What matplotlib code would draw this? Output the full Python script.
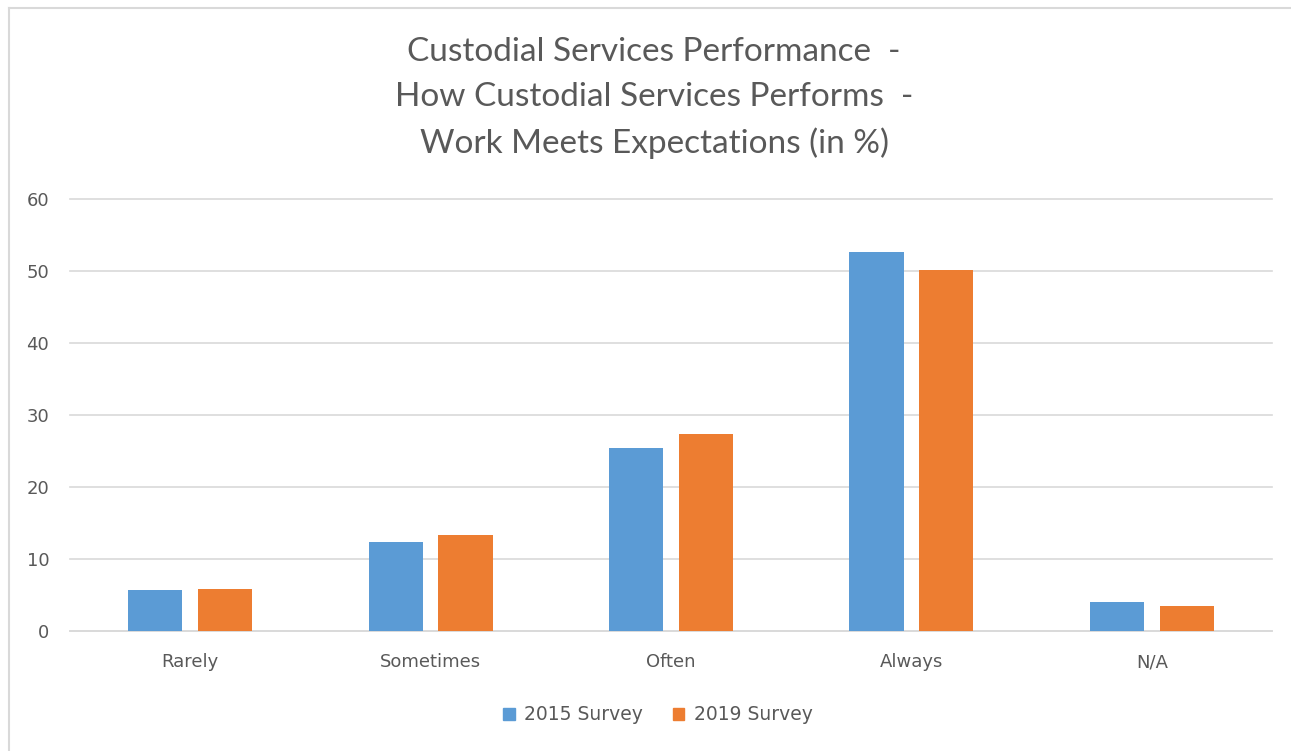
import matplotlib
matplotlib.use("Agg")
import matplotlib.pyplot as plt
import numpy as np
from matplotlib.lines import Line2D
from matplotlib.patches import Patch

categories = ["Rarely", "Sometimes", "Often", "Always", "N/A"]
survey_2015 = [5.7, 12.3, 25.4, 52.6, 4.0]
survey_2019 = [5.9, 13.4, 27.4, 50.1, 3.5]
series_labels = ["2015 Survey", "2019 Survey"]
yticks = [0, 10, 20, 30, 40, 50, 60]

BLUE = "#5B9BD5"
ORANGE = "#ED7D31"
TEXT = "#595959"
GRID = "#D9D9D9"

W, H = 1291, 751
fig = plt.figure(figsize=(W / 100, H / 100), dpi=100)
fig.patch.set_facecolor("white")

ax = fig.add_axes([70 / W, 1 - 631 / H, (1272 - 70) / W, (631 - 199) / H])
x = np.arange(len(categories))
bw = 0.225
off = 0.145
ax.bar(x - off, survey_2015, width=bw, color=BLUE, label=series_labels[0], zorder=3)
ax.bar(x + off, survey_2019, width=bw, color=ORANGE, label=series_labels[1], zorder=3)

ax.set_xlim(-0.5, len(categories) - 0.5)
ax.set_ylim(0, 60)
ax.set_yticks(yticks)
ax.set_yticklabels([str(t) for t in yticks])
ax.set_xticks(x)
ax.set_xticklabels(categories)
ax.yaxis.grid(True, color=GRID, linewidth=1.2, zorder=0)
for gl in ax.get_ygridlines():
    gl.set_clip_on(False)
ax.set_axisbelow(True)
for s in ["top", "right", "left"]:
    ax.spines[s].set_visible(False)
ax.spines["bottom"].set_color(GRID)
ax.spines["bottom"].set_linewidth(1.2)
ax.tick_params(axis="both", length=0, colors=TEXT, labelsize=13)
ax.tick_params(axis="y", pad=15)
ax.tick_params(axis="x", pad=16)

title_lines = ["Custodial Services Performance  -",
               "How Custodial Services Performs  -",
               "Work Meets Expectations (in %)"]
fig.text(654 / W, 1 - 98 / H, "\n".join(title_lines), ha="center", va="center",
         fontsize=24, color=TEXT, family=["Lato", "DejaVu Sans"],
         linespacing=1.6)

handles = [Patch(color=BLUE), Patch(color=ORANGE)]
fig.legend(handles, series_labels, loc="center", bbox_to_anchor=(658 / W, 1 - 715 / H),
           ncol=2, frameon=False, fontsize=13.5, labelcolor=TEXT,
           handlelength=0.6, handleheight=0.6, handletextpad=0.5, columnspacing=1.6)

# chart-area border
fig.add_artist(Line2D([9 / W, 9 / W], [0, 1 - 8 / H], transform=fig.transFigure, color=GRID, linewidth=1.5))
fig.add_artist(Line2D([9 / W, 1], [1 - 8 / H, 1 - 8 / H], transform=fig.transFigure, color=GRID, linewidth=1.5))

fig.savefig("out.png", dpi=100, facecolor="white")
